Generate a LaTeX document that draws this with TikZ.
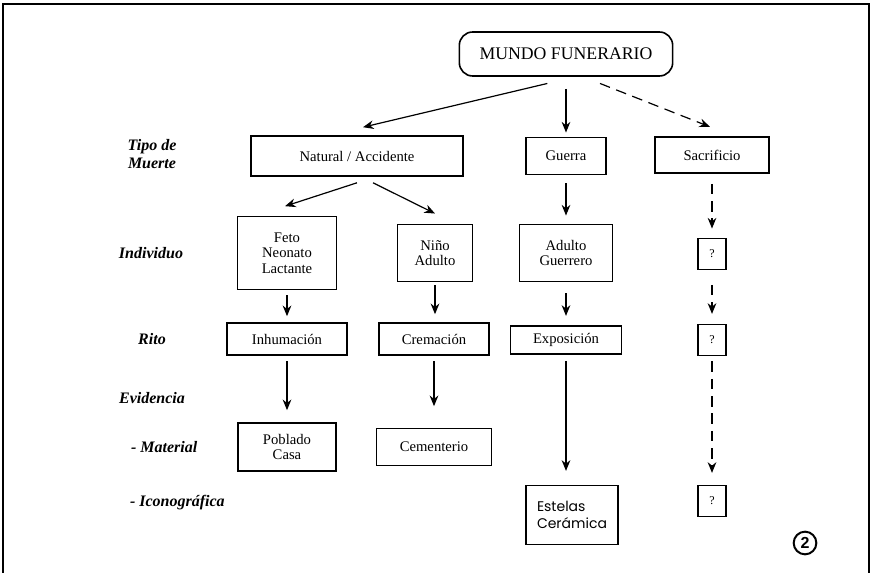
\documentclass[tikz,border=0pt]{standalone}
\usepackage{fontspec}
\setmainfont{Liberation Serif}
\setsansfont{Liberation Sans}
\newfontfamily\geofont{Poppins}
\usetikzlibrary{arrows.meta}

\begin{document}
\begin{tikzpicture}[
  x=0.75pt,y=-0.75pt,
  >={Stealth[length=8pt,width=6.5pt]},
  line width=0.9pt,
  box/.style={draw,line width=1.2pt,align=center,inner sep=0pt,font=\fontsize{11}{11.5}\selectfont},
  qbox/.style={box,minimum width=21pt,minimum height=23pt,font=\fontsize{9}{9}\selectfont},
  level/.style={align=center,font=\fontsize{12}{13}\selectfont\bfseries\itshape},
  dashline/.style={dash pattern=on 8pt off 5pt},
]
  \useasboundingbox (0,0) rectangle (871,573);
  % frame of the figure
  \draw[line width=1.1pt] (3,573) -- (3,4) -- (869,4) -- (869,573);

  % levels
  \node[level] (tipo) at (152,154) {Tipo de\\Muerte};
  \node[level] (indiv) at (151,253) {Individuo};
  \node[level] (rito) at (152,339) {Rito};
  \node[level] (evid) at (152,398) {Evidencia};
  \node[level,anchor=west] (mater) at (126,447) {- Material};
  \node[level,anchor=west] (icono) at (125,503) {- Iconográfica};

  \node[box,rounded corners=10pt,minimum width=160pt,minimum height=33pt,font=\fontsize{13.3}{14}\selectfont] (mundo) at (566,54) {MUNDO FUNERARIO};

  \node[box,minimum width=159pt,minimum height=30pt] (natural) at (357,156) {Natural / Accidente};
  \node[box,minimum width=60pt,minimum height=28pt] (guerra) at (566,156) {Guerra};
  \node[box,minimum width=85.5pt,minimum height=27pt] (sacrif) at (712,155) {Sacrificio};

  \node[box,minimum width=74pt,minimum height=55pt] (feto) at (287,253) {Feto\\Neonato\\Lactante};
  \node[box,minimum width=56pt,minimum height=43pt] (ninho) at (435,253) {Niño\\Adulto};
  \node[box,minimum width=70pt,minimum height=43pt] (adulto) at (566,253) {Adulto\\Guerrero};
  \node[qbox] (q1) at (712,254) {?};

  \node[box,minimum width=90pt,minimum height=24pt] (inhum) at (287,339) {Inhumación};
  \node[box,minimum width=82.5pt,minimum height=24pt] (crem) at (434,339) {Cremación};
  \node[box,minimum width=83pt,minimum height=21pt] (expo) at (566,340) {Exposición};
  \node[qbox] (q2) at (712,340) {?};

  \node[box,minimum width=73.5pt,minimum height=36pt] (poblado) at (287,447) {Poblado\\Casa};
  \node[box,minimum width=86pt,minimum height=28pt] (cement) at (434,447) {Cementerio};
  \node[box,align=left,minimum width=69pt,minimum height=44pt,font=\geofont\fontsize{10.5}{13}\selectfont] (estelas) at (572,515) {Estelas\\Cerámica};
  \node[qbox] (q3) at (712,501) {?};

  \node[circle,draw,line width=1.5pt,minimum size=17pt,inner sep=0pt,font=\sffamily\bfseries\fontsize{12}{12}\selectfont] (num) at (805,543) {2};

  % first split
  \draw[->] ([xshift=-14pt,yshift=-5pt]mundo.south) -- ([xshift=4.5pt,yshift=6pt]natural.north);
  \draw[->,shorten <=9pt,shorten >=3pt] (mundo.south) -- (guerra.north);
  \draw[->,dashline] ([xshift=25.5pt,yshift=-5pt]mundo.south) -- ([xshift=-1.5pt,yshift=7pt]sacrif.north);
  \draw[->] ([yshift=-4.5pt]natural.south) -- ([xshift=-1.5pt,yshift=7pt]feto.north);
  \draw[->] ([xshift=12pt,yshift=-4.5pt]natural.south) -- ([yshift=7.5pt]ninho.north);

  % columns
  \foreach \a/\b/\s/\e in {feto/inhum/3.75/4.5,ninho/crem/2.25/6,guerra/adulto/6/6,adulto/expo/8/7,
      inhum/poblado/4/9,crem/cement/4/16,expo/estelas/4.5/10.5}
    \draw[->,shorten <=\s pt,shorten >=\e pt] (\a.south) -- (\a.south |- \b.north);
  \foreach \a/\b/\s/\e in {sacrif/q1/7.5/7,q1/q2/11/7.5,q2/q3/4/9}
    \draw[->,dashline,shorten <=\s pt,shorten >=\e pt] (\a.south) -- (\b.north);
\end{tikzpicture}
\end{document}
